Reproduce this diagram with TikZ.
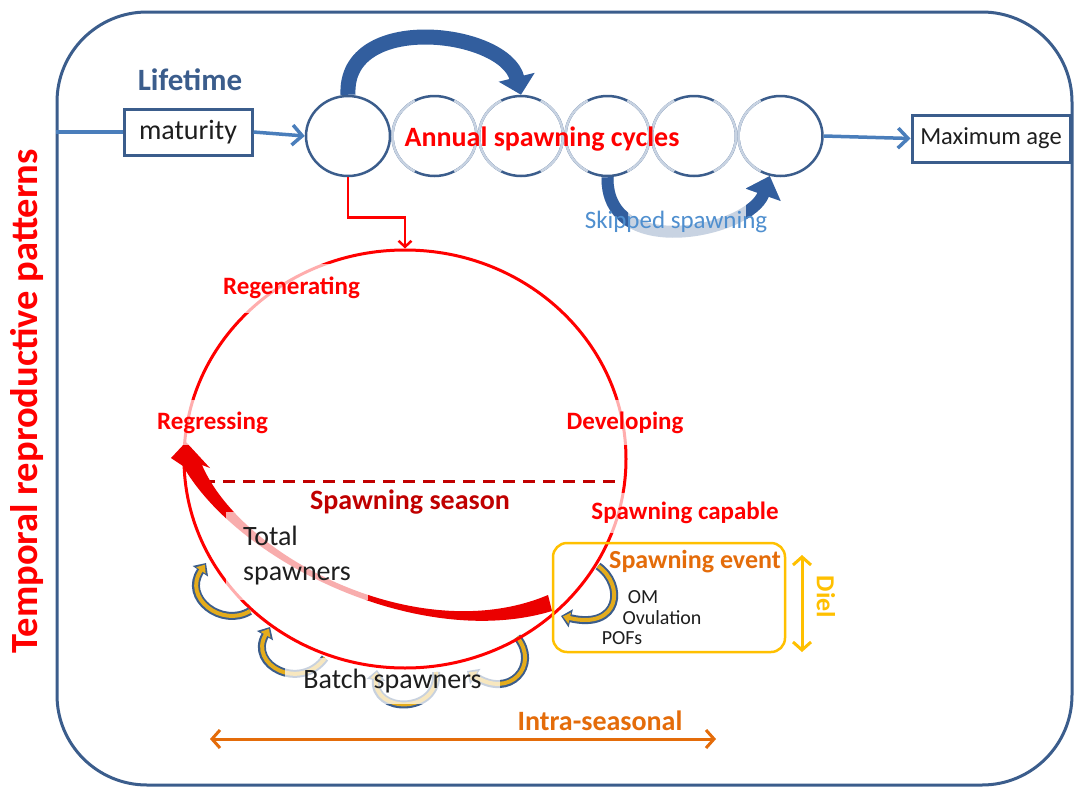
\documentclass[tikz,border=0pt]{standalone}
\usepackage{fontspec}
\setmainfont{Carlito}
\usetikzlibrary{shapes.geometric,arrows.meta,calc}
\definecolor{bord}{RGB}{59,93,140}
\definecolor{lineblue}{RGB}{74,126,187}
\definecolor{darkblue}{RGB}{50,94,158}
\definecolor{paleblue}{RGB}{200,211,226}
\definecolor{skipblue}{RGB}{79,143,207}
\definecolor{myred}{RGB}{255,0,0}
\definecolor{arrred}{RGB}{235,0,0}
\definecolor{darkred}{RGB}{192,0,0}
\definecolor{myorange}{RGB}{228,108,10}
\definecolor{mygold}{RGB}{255,192,0}
\definecolor{curlgold}{RGB}{228,172,28}
\definecolor{txt}{RGB}{30,30,30}
\newcommand\fs[1]{\fontsize{#1}{#1}\selectfont}
\newcommand\curlarr[1]{\draw[curlout] #1; \draw[curlin] #1;}
\begin{document}
\begin{tikzpicture}[x=1pt,y=-1pt,
  frame/.style={draw=bord, line width=3pt, rounded corners=90pt, minimum width=1015pt, minimum height=773pt, inner sep=0pt},
  box/.style={draw=bord, line width=3pt, inner sep=0pt},
  yr/.style={ellipse, draw=bord, line width=2.5pt, minimum width=84pt, minimum height=80pt, inner sep=0pt},
  bluearrow/.style={draw=lineblue, line width=3.5pt, -{Straight Barb[length=10pt,width=20pt]}},
  stage/.style={text=myred, font=\bfseries\fs{25}, fill=white, fill opacity=0.68, text opacity=1, inner sep=0pt},
  curlout/.style={draw=bord, line width=8pt, -{Triangle[length=10pt,width=18pt]}},
  curlin/.style={draw=curlgold, line width=4pt, shorten >=2pt, -{Triangle[length=7pt,width=11pt]}},
  skip/.style={line width=12pt, -{Triangle[length=20pt,width=36pt]}},
  orangearrow/.style={draw=myorange, line width=3pt, {Straight Barb[length=8pt,width=18pt]}-{Straight Barb[length=8pt,width=18pt]}},
  goldarrow/.style={draw=mygold, line width=3pt, {Straight Barb[length=8pt,width=18pt]}-{Straight Barb[length=8pt,width=18pt]}}
]
\useasboundingbox (0,0) rectangle (1074,790);
\fill[white] (0,0) rectangle (1074,790);

% frame and title
\node[frame] (frame) at (564.5,398.5) {};
\node[rotate=90, text=myred, font=\bfseries\fs{38.5}] (title) at (27,401) {Temporal reproductive patterns};

% lifetime row
\node[text=bord, font=\bfseries\fs{31}] (life) at (190,80) {Lifetime};
\node[box, minimum width=128pt, minimum height=46pt, font=\fs{28}, text=txt] (mat) at (188,132) {maturity};
\node[yr] (c1) at (348,136) {};
\node[yr] (c2) at (434.5,136) {};
\node[yr] (c3) at (521,136) {};
\node[yr] (c4) at (607.5,136) {};
\node[yr] (c5) at (694,136) {};
\node[yr] (c6) at (780.5,136) {};
\foreach \cx in {434.5,521,607.5,694} {
  \draw[paleblue, line width=2.5pt] (\cx,136) ++(118:42 and 40) arc[start angle=118, end angle=242, x radius=42, y radius=40];
  \draw[paleblue, line width=2.5pt] (\cx,136) ++(-62:42 and 40) arc[start angle=-62, end angle=62, x radius=42, y radius=40];
}
\draw[paleblue, line width=2.5pt] (780.5,136) ++(118:42 and 40) arc[start angle=118, end angle=242, x radius=42, y radius=40];
\node[box, minimum width=158pt, minimum height=47pt, font=\fs{24.5}, text=txt] (maxage) at (991,138.5) {Maximum age};

\draw[draw=lineblue, line width=3.5pt] (frame.west |- mat.west) -- (mat.west);
\draw[bluearrow] (mat.east) -- (c1.west);
\draw[bluearrow] (c6.east) -- (maxage.west);

% annual skip arrows
\draw[darkblue, line width=15pt, -{Triangle[length=18pt,width=36pt]}] (c1.north) .. controls (344,11) and (505,30) .. (c3.north);
\draw[paleblue, skip] (c4.south) .. controls (606,262) and (750,232) .. (c6.255);
\begin{scope}
  \clip (560,150) rectangle (628,270);
  \draw[darkblue, skip] (c4.south) .. controls (606,262) and (750,232) .. (c6.255);
\end{scope}
\begin{scope}
  \clip (746,150) rectangle (810,270);
  \draw[darkblue, skip] (c4.south) .. controls (606,262) and (750,232) .. (c6.255);
\end{scope}
\node[text=myred, font=\bfseries\fs{28}] (annual) at (542,139) {Annual spawning cycles};
\node[text=skipblue, font=\fs{25}] (skipt) at (676,222) {Skipped spawning};

% curls under batch label
\curlarr{(325,658) .. controls (300,692) and (248,665) .. (270,627)}
\curlarr{(436,672) .. controls (440,714) and (372,714) .. (377,670)}
\curlarr{(517,637) .. controls (540,665) and (510,700) .. (467,671)}
\node[fill=white, fill opacity=0.72, text opacity=1, text=txt, font=\fs{28}, minimum width=215pt, minimum height=46pt, inner sep=0pt] (batch) at (392.5,681) {Batch spawners};

% seasonal cycle
\node[ellipse, draw=myred, line width=3pt, minimum width=442pt, minimum height=418pt, inner sep=0pt] (cyc) at (405,459) {};
\draw[draw=myred, line width=2.5pt, -{Straight Barb[length=6pt,width=13pt]}] (c1.south) -- ++(0,40) -| (cyc.north);
\coordinate (dl) at (203,481);
\coordinate (dr) at (620,481);
\draw[darkred, line width=3pt, dash pattern=on 12pt off 8pt] (dl) -- (dr);

% spawning event box
\node[draw=mygold, line width=2.5pt, rounded corners=14pt, minimum width=232pt, minimum height=109pt, inner sep=0pt] (sev) at (669,597.5) {};
\curlarr{(250,611) .. controls (222,628) and (182,598) .. (206,563)}
\curlarr{(598,566) .. controls (625,585) and (620,630) .. (561,616)}

% total spawners arrow
\fill[arrred] (552,611) .. controls (420,651) and (238,562) .. (183,466) -- (171,458) -- (186,442) -- (210,468) -- (202,465) .. controls (242,558) and (420,649) .. (548,595) -- cycle;

% stage labels
\node[stage, minimum width=153pt, minimum height=49pt] (regen) at (291.5,288) {Regenerating};
\node[stage, minimum width=125pt, minimum height=45pt] (regress) at (212.5,422.5) {Regressing};
\node[stage, minimum width=130pt, minimum height=45pt] (devel) at (625,422.5) {Developing};
\node[stage, minimum width=200pt, minimum height=40pt] (capable) at (685,513) {Spawning capable};
\node[fill=white, fill opacity=0.68, text opacity=1, text=txt, font=\fontsize{28}{35}\selectfont, align=left, minimum width=142pt, minimum height=88pt, inner sep=0pt] (total) at (297,556) {Total\\spawners};
\node[text=darkred, font=\bfseries\fs{28}] (season) at (410,502) {Spawning season};

\node[text=myorange, font=\bfseries\fs{26}] (sevt) at (695,562) {Spawning event};
\node[text=txt, font=\fs{20}] (om) at (643,597) {OM};
\node[text=txt, font=\fs{20}] (ovu) at (662,618) {Ovulation};
\node[text=txt, font=\fs{20}] (pof) at (622,638) {POFs};

\coordinate (dt) at (802,555);
\coordinate (db) at (802,652);
\draw[goldarrow] (dt) -- (db);
\node[rotate=-90, text=mygold, font=\bfseries\fs{26}] (diel) at (826,597) {Diel};

\coordinate (il) at (210,739);
\coordinate (ir) at (716,739);
\draw[orangearrow] (il) -- (ir);
\node[text=myorange, font=\bfseries\fs{28}] (intra) at (600,721) {Intra-seasonal};
\end{tikzpicture}
\end{document}
